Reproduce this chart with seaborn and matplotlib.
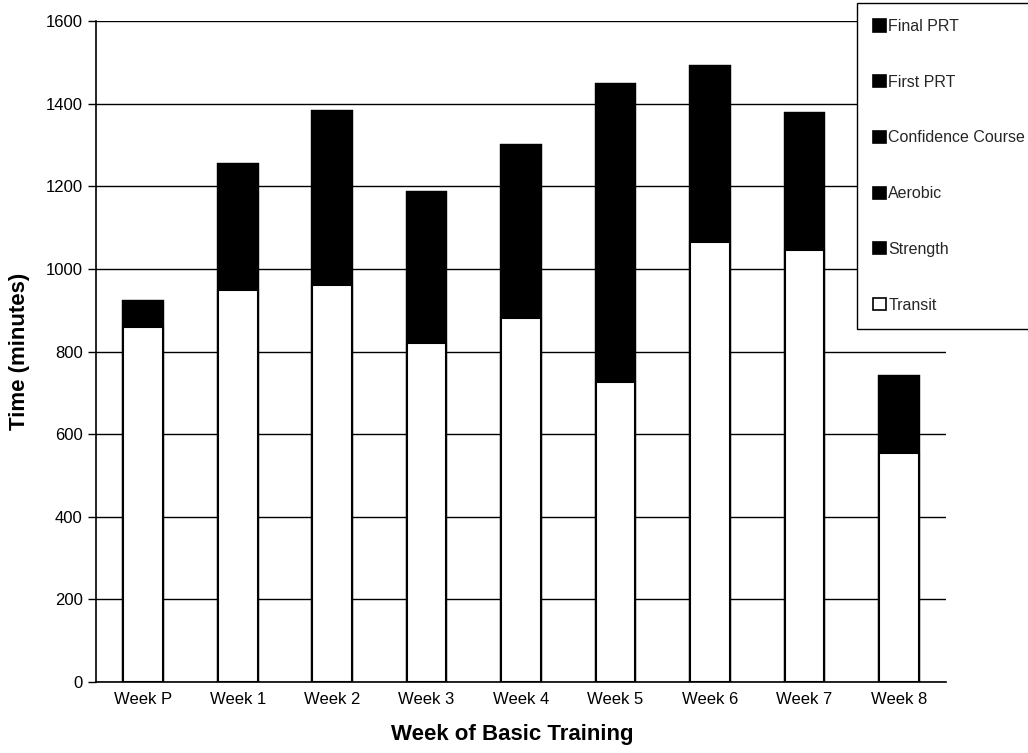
import matplotlib
matplotlib.use("Agg")
import matplotlib.pyplot as plt
from matplotlib.patches import Patch
import seaborn as sns
import pandas as pd
import numpy as np

weeks = ["Week P", "Week 1", "Week 2", "Week 3", "Week 4",
         "Week 5", "Week 6", "Week 7", "Week 8"]
# minutes per activity (the scanned chart shows every non-transit layer in black,
# so the dark part of each bar is carried by one series)
transit = [860, 950, 960, 820, 880, 725, 1065, 1045, 555]
strength = [62, 305, 423, 365, 420, 723, 425, 333, 185]
aerobic = [0, 0, 0, 0, 0, 0, 0, 0, 0]
confidence_course = [0, 0, 0, 0, 0, 0, 0, 0, 0]
first_prt = [0, 0, 0, 0, 0, 0, 0, 0, 0]
final_prt = [0, 0, 0, 0, 0, 0, 0, 0, 0]

series = ["Transit", "Strength", "Aerobic", "Confidence Course", "First PRT", "Final PRT"]
values = [transit, strength, aerobic, confidence_course, first_prt, final_prt]
colors = ["white", "black", "black", "black", "black", "black"]

sns.set_theme(style="white")
plt.rcParams["font.family"] = ["Liberation Sans", "DejaVu Sans"]

fig = plt.figure(figsize=(10.28, 7.53), dpi=100)
ax = fig.add_axes([96 / 1028, 1 - 682 / 753, 850 / 1028, 661 / 753])

df = pd.DataFrame(dict(zip(series, values)), index=weeks)
cum = df.cumsum(axis=1)

# stack by drawing cumulative totals from the top layer down
for name, col in reversed(list(zip(series, colors))):
    sns.barplot(x=weeks, y=cum[name].values, order=weeks, color=col,
                edgecolor="black", linewidth=1.5, width=0.42, saturation=1,
                ax=ax, zorder=3)

ax.set_ylim(0, 1600)
ax.set_xlim(-0.5, len(weeks) - 0.5)
ax.set_yticks(np.arange(0, 1601, 200))
ax.yaxis.grid(True, color="black", linewidth=1)
ax.set_axisbelow(True)

for s in ["top", "right"]:
    ax.spines[s].set_visible(False)
for s in ["left", "bottom"]:
    ax.spines[s].set_color("black")
    ax.spines[s].set_linewidth(1.2)

ax.set_xticks(np.arange(-0.5, len(weeks)), minor=True)
ax.tick_params(axis="x", which="major", length=0, pad=7, labelsize=12, colors="black")
ax.tick_params(axis="x", which="minor", length=6, width=1, color="black", direction="out")
ax.tick_params(axis="y", length=6, width=1, color="black", direction="out",
               labelsize=12, labelcolor="black", left=True)

ax.set_xlabel("Week of Basic Training", fontsize=16, fontweight="bold", color="black")
ax.set_ylabel("Time (minutes)", fontsize=16, fontweight="bold", color="black")
ax.xaxis.set_label_coords(0.49, -0.063)
ax.yaxis.set_label_coords(-0.078, 0.5)

handles = [Patch(facecolor=c, edgecolor="black", linewidth=1.2, label=n)
           for n, c in zip(series, colors)][::-1]
leg = fig.legend(handles=handles, loc="upper left",
                 bbox_to_anchor=(857 / 1028, 1 - 3 / 753),
                 fontsize=11.5, frameon=True, fancybox=False, edgecolor="black",
                 framealpha=1, facecolor="white",
                 labelspacing=2.55, handlelength=0.8, handleheight=0.8,
                 handletextpad=0.15, borderpad=1.0, borderaxespad=0)
leg.get_frame().set_linewidth(1)

fig.savefig("out.png", dpi=100, facecolor="white")
